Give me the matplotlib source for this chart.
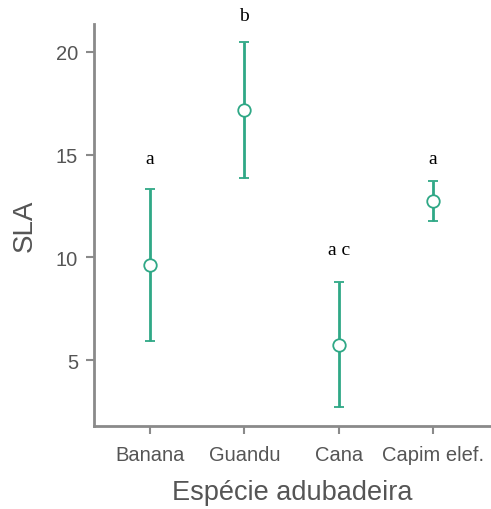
import numpy as np
import matplotlib
matplotlib.use('Agg')
import matplotlib.pyplot as plt

species = ['Banana', 'Guandu', 'Cana', 'Capim elef.']
means = [9.61, 17.19, 5.71, 12.76]
upper = [13.31, 20.49, 8.78, 13.73]
lower = [5.91, 13.88, 2.71, 11.79]
letters = ['a', 'b', 'a c', 'a']
letter_y = [14.8, 21.75, 10.4, 14.8]

green = '#2fa886'
grey = '#8a8a8a'
textgrey = '#555555'

fig = plt.figure(figsize=(4.91, 5.10), dpi=100)
ax = fig.add_axes([0.1914, 0.1627, 0.807, 0.7883])

x = np.arange(len(species))
means = np.array(means)
err = np.array([means - np.array(lower), np.array(upper) - means])

ax.errorbar(x, means, yerr=err, fmt='o', color=green, ecolor=green,
            elinewidth=2, capsize=3.4, capthick=2.5,
            markersize=9, markerfacecolor='white', markeredgecolor=green,
            markeredgewidth=1.3, zorder=3)

for xi, lab, ly in zip(x, letters, letter_y):
    ax.text(xi, ly, lab, ha='center', va='center', fontsize=14,
            family='Liberation Serif', color='black', clip_on=False)

ax.set_xlim(-0.594, 3.605)
ax.set_ylim(1.79, 21.36)
ax.set_xticks(x)
ax.set_xticklabels(species)
ax.set_yticks([5, 10, 15, 20])

for s in ['top', 'right']:
    ax.spines[s].set_visible(False)
for s in ['left', 'bottom']:
    ax.spines[s].set_color(grey)
    ax.spines[s].set_linewidth(2)

ax.tick_params(axis='both', colors=grey, width=1.5, length=5.5, pad=6,
               labelcolor=textgrey, labelsize=14.5)
ax.tick_params(axis='x', pad=8)
for lbl in ax.get_xticklabels() + ax.get_yticklabels():
    lbl.set_family('Liberation Sans')

ax.set_xlabel('Espécie adubadeira', fontsize=19.5, color=textgrey,
              family='Liberation Sans', labelpad=11)
ax.set_ylabel('SLA', fontsize=20, color=textgrey,
              family='Liberation Sans', labelpad=13)

fig.savefig('out.png', dpi=100)
